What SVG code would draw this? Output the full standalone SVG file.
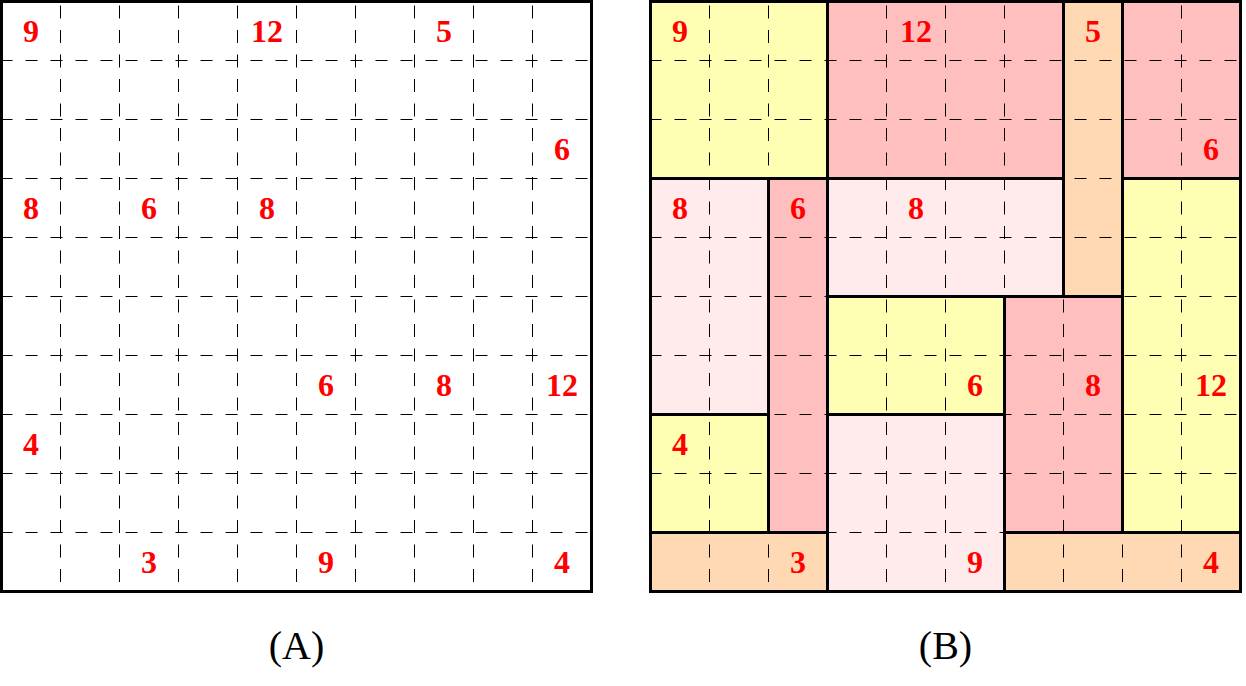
<svg xmlns="http://www.w3.org/2000/svg" width="1246" height="686" viewBox="0 0 1246 686">
<defs>
<style>
.grid{stroke:#000;stroke-width:1;fill:none}
.h{stroke-dasharray:12 13}
.v{stroke-dasharray:13 11.5}
.bd{fill:none;stroke:#000;stroke-width:3}
.y{fill:#ffffb3}
.r{fill:#ffbfbf}
.p{fill:#ffebeb}
.o{fill:#ffd9b3}
.n{font-family:"Liberation Serif",serif;font-weight:bold;font-size:32px;fill:#ff0000;text-anchor:middle}
.lab{font-family:"Liberation Serif",serif;font-size:40px;fill:#000;text-anchor:middle}
</style>
</defs>
<rect x="0" y="0" width="1246" height="686" fill="#fff"/>
<g transform="translate(-0.5 -0.5)">
<!-- Panel A -->
<g id="panelA">
<g class="grid h">
<path d="M1 61H593M1 120H593M1 179H593M1 238H593M1 297H593M1 356H593M1 415H593M1 474H593M1 533H593"/>
</g>
<g class="grid v">
<path d="M61 6V593M120 6V593M179 6V593M238 6V593M297 6V593M356 6V593M415 6V593M474 6V593M533 6V593"/>
</g>
<rect class="bd" x="2" y="2" width="590" height="590"/>
<g>
<text class="n" x="31.5" y="42">9</text>
<text class="n" x="267.5" y="42">12</text>
<text class="n" x="444.5" y="42">5</text>
<text class="n" x="562.5" y="160">6</text>
<text class="n" x="31.5" y="219">8</text>
<text class="n" x="149.5" y="219">6</text>
<text class="n" x="267.5" y="219">8</text>
<text class="n" x="326.5" y="396">6</text>
<text class="n" x="444.5" y="396">8</text>
<text class="n" x="562.5" y="396">12</text>
<text class="n" x="31.5" y="455">4</text>
<text class="n" x="149.5" y="573">3</text>
<text class="n" x="326.5" y="573">9</text>
<text class="n" x="562.5" y="573">4</text>
</g>
<text class="lab" x="297" y="659">(A)</text>
</g>

<!-- Panel B -->
<g id="panelB">
<g id="fills">
<rect class="y" x="651" y="2" width="177" height="177"/>
<rect class="r" x="828" y="2" width="236" height="177"/>
<rect class="o" x="1064" y="2" width="59" height="295"/>
<rect class="r" x="1123" y="2" width="118" height="177"/>
<rect class="p" x="651" y="179" width="118" height="236"/>
<rect class="r" x="769" y="179" width="59" height="354"/>
<rect class="p" x="828" y="179" width="236" height="118"/>
<rect class="y" x="1123" y="179" width="118" height="354"/>
<rect class="y" x="828" y="297" width="177" height="118"/>
<rect class="r" x="1005" y="297" width="118" height="236"/>
<rect class="y" x="651" y="415" width="118" height="118"/>
<rect class="p" x="828" y="415" width="177" height="177"/>
<rect class="o" x="651" y="533" width="177" height="59"/>
<rect class="o" x="1005" y="533" width="236" height="59"/>
</g>
<g class="grid h">
<path d="M650 61H1242M650 120H1242M650 179H1242M650 238H1242M650 297H1242M650 356H1242M650 415H1242M650 474H1242M650 533H1242"/>
</g>
<g class="grid v">
<path d="M710 6V593M769 6V593M828 6V593M887 6V593M946 6V593M1005 6V593M1064 6V593M1123 6V593M1182 6V593"/>
</g>
<g id="outlines">
<rect class="bd" x="651" y="2" width="177" height="177"/>
<rect class="bd" x="828" y="2" width="236" height="177"/>
<rect class="bd" x="1064" y="2" width="59" height="295"/>
<rect class="bd" x="1123" y="2" width="118" height="177"/>
<rect class="bd" x="651" y="179" width="118" height="236"/>
<rect class="bd" x="769" y="179" width="59" height="354"/>
<rect class="bd" x="828" y="179" width="236" height="118"/>
<rect class="bd" x="1123" y="179" width="118" height="354"/>
<rect class="bd" x="828" y="297" width="177" height="118"/>
<rect class="bd" x="1005" y="297" width="118" height="236"/>
<rect class="bd" x="651" y="415" width="118" height="118"/>
<rect class="bd" x="828" y="415" width="177" height="177"/>
<rect class="bd" x="651" y="533" width="177" height="59"/>
<rect class="bd" x="1005" y="533" width="236" height="59"/>
<rect class="bd" x="651" y="2" width="590" height="590"/>
</g>
<g>
<text class="n" x="680.5" y="42">9</text>
<text class="n" x="916.5" y="42">12</text>
<text class="n" x="1093.5" y="42">5</text>
<text class="n" x="1211.5" y="160">6</text>
<text class="n" x="680.5" y="219">8</text>
<text class="n" x="798.5" y="219">6</text>
<text class="n" x="916.5" y="219">8</text>
<text class="n" x="975.5" y="396">6</text>
<text class="n" x="1093.5" y="396">8</text>
<text class="n" x="1211.5" y="396">12</text>
<text class="n" x="680.5" y="455">4</text>
<text class="n" x="798.5" y="573">3</text>
<text class="n" x="975.5" y="573">9</text>
<text class="n" x="1211.5" y="573">4</text>
</g>
<text class="lab" x="946" y="659">(B)</text>
</g>
</g>
</svg>
